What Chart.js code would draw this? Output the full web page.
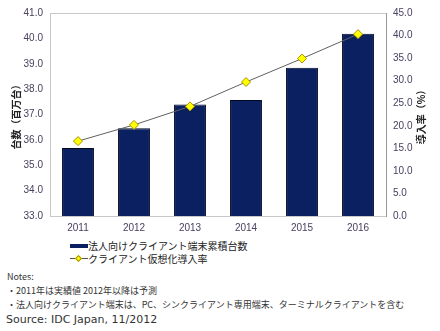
<!DOCTYPE html>
<html>
<head>
<meta charset="utf-8">
<script src="https://cdn.jsdelivr.net/npm/chart.js@4"></script>
<style>
  body { margin: 0; width: 440px; height: 331px; background: #fff; overflow: hidden;
         font-family: "Liberation Sans", "Noto Sans CJK JP", sans-serif; }
  #wrap { position: relative; width: 440px; height: 235px; }
  .legend { position: absolute; left: 70px; font-size: 10px; color: #222;
            font-family: "Noto Sans CJK JP", sans-serif; }
  .legend .row { height: 13px; line-height: 13px; display: flex; align-items: center; }
  .sw-bar { display: inline-block; width: 18px; height: 4px; background: #0a2060; }
  .sw-line { display: inline-block; width: 18px; height: 9px; position: relative; }
  .sw-line:before { content: ""; position: absolute; left: 0; right: 0; top: 4px; height: 1px; background: #555; }
  .sw-line:after { content: ""; position: absolute; left: 6px; top: 1.5px; width: 5px; height: 5px;
                   background: #ffff00; border: 1px solid #a89000; transform: rotate(45deg); box-sizing: border-box; }
  .notes { position: absolute; left: 7px; font-size: 9px; color: #333; font-family: "Noto Sans CJK JP", sans-serif; }
  .source { position: absolute; left: 6px; top: 313px; font-size: 11px; color: #333; font-family: "DejaVu Sans", sans-serif; }
</style>
</head>
<body>
<div id="wrap"><canvas id="c"></canvas></div>
<div class="legend" style="top:239px">
  <div class="row"><span class="sw-bar"></span><span>法人向けクライアント端末累積台数</span></div>
  <div class="row"><span class="sw-line"></span><span>クライアント仮想化導入率</span></div>
</div>
<div class="notes" style="top:270px">Notes:</div>
<div class="notes" style="top:284px">・2011年は実績値 2012年以降は予測</div>
<div class="notes" style="top:298px">・法人向けクライアント端末は、PC、シンクライアント専用端末、ターミナルクライアントを含む</div>
<div class="source">Source: IDC Japan, 11/2012</div>
<script>
const years = ['2011', '2012', '2013', '2014', '2015', '2016'];
const units = [35.68, 36.46, 37.39, 37.57, 38.84, 40.18];   // 百万台
const rate = [16.6, 20.2, 24.3, 29.7, 34.9, 40.3];          // %
const unitsLabel = '法人向けクライアント端末累積台数';
const rateLabel = 'クライアント仮想化導入率';
const leftTitle = '台数（百万台）';
const rightTitle = '導入率（%）';

const tickColor = '#4a4060';

// top frame line + both axis titles, rotated counter-clockwise like the original
const frame = {
  id: 'frame',
  afterDraw(chart) {
    const { ctx, chartArea: a } = chart;
    ctx.save();
    ctx.strokeStyle = '#c8c8c8';
    ctx.lineWidth = 1;
    ctx.beginPath();
    ctx.moveTo(a.left, a.top + 0.5);
    ctx.lineTo(a.right, a.top + 0.5);
    ctx.stroke();

    const cy = (a.top + a.bottom) / 2;
    ctx.fillStyle = '#222';
    ctx.font = 'bold 10px "Noto Sans CJK JP"';
    ctx.textAlign = 'center';
    ctx.textBaseline = 'middle';
    [[16, leftTitle], [421, rightTitle]].forEach(([x, t]) => {
      ctx.save();
      ctx.translate(x, cy);
      ctx.rotate(-Math.PI / 2);
      ctx.fillText(t, 0, 0);
      ctx.restore();
    });
    ctx.restore();
  }
};

new Chart(document.getElementById('c'), {
  data: {
    labels: years,
    datasets: [
      {
        type: 'line', label: rateLabel, data: rate, yAxisID: 'y1',
        borderColor: '#606060', borderWidth: 1,
        pointStyle: 'rectRot', pointRadius: 4.5,
        pointBackgroundColor: '#ffff00', pointBorderColor: '#a89000', pointBorderWidth: 1,
        order: 0
      },
      {
        type: 'bar', label: unitsLabel, data: units, yAxisID: 'y',
        backgroundColor: '#0a2060', borderColor: '#000820', borderWidth: 1,
        categoryPercentage: 1, barPercentage: 0.57,
        order: 1
      }
    ]
  },
  options: {
    responsive: true, maintainAspectRatio: false, animation: false,
    layout: { padding: { top: 0, left: 0, right: 0 } },
    plugins: { legend: { display: false }, tooltip: { enabled: false } },
    scales: {
      x: {
        grid: { display: false, drawTicks: false },
        border: { color: '#c8c8c8' },
        ticks: { color: tickColor, font: { family: 'Liberation Sans', size: 10 }, padding: 6 },
        afterFit(s) { s.height = 19; }
      },
      y: {
        position: 'left', min: 33, max: 41,
        grid: { display: false, drawTicks: false },
        border: { color: '#c8c8c8' },
        ticks: { stepSize: 1, color: tickColor, padding: 7,
                 font: { family: 'Liberation Sans', size: 10 },
                 callback: v => v.toFixed(1) },
        afterFit(s) { s.width = 50; }
      },
      y1: {
        position: 'right', min: 0, max: 45,
        grid: { display: false, drawOnChartArea: false, drawTicks: true, tickLength: 4, color: '#999' },
        border: { color: '#999' },
        ticks: { stepSize: 5, color: tickColor, padding: 3,
                 font: { family: 'Liberation Sans', size: 10 },
                 callback: v => v.toFixed(1) },
        afterFit(s) { s.width = 54; }
      }
    }
  },
  plugins: [frame]
});
</script>
</body>
</html>
